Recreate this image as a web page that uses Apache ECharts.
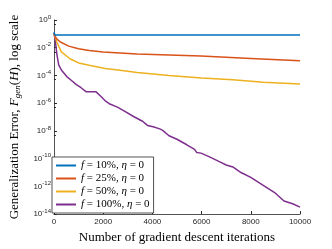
<!DOCTYPE html>
<html><head><meta charset="utf-8">
<script src="https://cdn.jsdelivr.net/npm/echarts@6/dist/echarts.min.js"></script>
<style>html,body{margin:0;padding:0;background:#fff}#c{width:332px;height:249px}</style>
</head><body><div id="c"></div>
<script>
var seriesNames = ['{i|f} = 10%, {i|η} = 0', '{i|f} = 25%, {i|η} = 0', '{i|f} = 50%, {i|η} = 0', '{i|f} = 100%, {i|η} = 0'];
var colors = ['#0072BD', '#D95319', '#EDB120', '#7E2F8E'];

var blueX = [0, 40, 10000];
var blueY = [1.3e-1, 8.3e-2, 8.3e-2];

var orangeX = [0, 100, 260, 600, 1000, 1430, 2000, 3380, 5975, 8000, 10000];
var orangeY = [1.0e-1, 4.5e-2, 2.6e-2, 1.3e-2, 8.5e-3, 6.2e-3, 5.0e-3, 3.5e-3, 2.5e-3, 1.7e-3, 1.15e-3];

var yellowX = [0, 60, 130, 300, 650, 1000, 1430, 2080, 2600, 3380, 4670, 6000, 7270, 8500, 10000];
var yellowY = [1.0e-1, 5e-2, 2.3e-2, 5e-3, 1.6e-3, 8e-4, 5.5e-4, 3.2e-4, 2.5e-4, 1.66e-4, 1.0e-4, 6.5e-5, 4.9e-5, 3.3e-5, 2.4e-5];

var purpleX = [0, 60, 120, 195, 300, 520, 700, 910, 1100, 1300, 1700, 1900, 2100, 2275, 2600, 2900, 3250, 3600, 3800, 4030, 4300, 4420, 4675, 5000, 5400, 5715, 5800, 5975, 6300, 6700, 7000, 7270, 7600, 8000, 8300, 8570, 9000, 9350, 9700, 10000];
var purpleY = [1.2e-1, 2.5e-2, 3.2e-3, 5.5e-4, 2.5e-4, 8.3e-5, 4.5e-5, 2.2e-5, 1.3e-5, 6.8e-6, 6.8e-6, 3.2e-6, 1.4e-6, 8.7e-7, 5.0e-7, 2.5e-7, 1.05e-7, 5.0e-8, 2.5e-8, 2.0e-8, 1.4e-8, 1.1e-8, 4.5e-9, 2.5e-9, 1.0e-9, 4.7e-10, 2.8e-10, 2.5e-10, 1.4e-10, 6.3e-11, 3.5e-11, 2.5e-11, 1.0e-11, 4.5e-12, 2.0e-12, 1.0e-12, 3.2e-13, 8.9e-14, 5.6e-14, 3.2e-14];

var xTicks = [0, 2000, 4000, 6000, 8000, 10000];

function pairs(xs, ys){ return xs.map(function(x,i){ return [x, ys[i]]; }); }
var allX = [blueX, orangeX, yellowX, purpleX];
var allY = [blueY, orangeY, yellowY, purpleY];

var chart = echarts.init(document.getElementById('c'), null, {renderer:'canvas'});
var serif = '"Liberation Serif","DejaVu Serif",serif';
var sans = '"Liberation Sans", Arial, sans-serif';
var option = {
  animation: false,
  backgroundColor: '#fff',
  grid: {left: 43, right: 32, top: 20, bottom: 29},
  xAxis: {
    type: 'value', min: xTicks[0], max: xTicks[xTicks.length-1], interval: 2000,
    name: 'Number of gradient descent iterations', nameLocation: 'middle', nameGap: 16,
    nameTextStyle: {fontFamily: serif, fontSize: 13, color: '#000'},
    axisLine: {lineStyle: {color: '#262626', width: 0.8}},
    axisTick: {inside: true, length: 3, lineStyle: {color: '#262626'}},
    axisLabel: {fontSize: 8, color: '#262626', margin: 4, fontFamily: sans,
      formatter: function(v){ return String(v); }},
    splitLine: {show: false}
  },
  yAxis: {
    type: 'log', min: 1e-14, max: 1, logBase: 10, interval: 2,
    name: 'Generalization Error, {i|F}{sub|gen}({i|H}), log scale', nameLocation: 'middle', nameGap: 28,
    nameTextStyle: {fontFamily: serif, fontSize: 13, color: '#000',
      rich: {i: {fontFamily: serif, fontStyle: 'italic', fontSize: 13}, sub: {fontFamily: serif, fontStyle: 'italic', fontSize: 9, padding: [7,0,0,0]}}},
    axisLine: {show: true, lineStyle: {color: '#262626', width: 0.8}},
    axisTick: {inside: true, length: 3, lineStyle: {color: '#262626'}},
    minorTick: {show: true, splitNumber: 2, length: 2, lineStyle: {color: '#262626'}},
    axisLabel: {
      color: '#262626', fontSize: 8, margin: 3, fontFamily: sans,
      formatter: function(v){ var e = Math.round(Math.log10(v)); return '10{s|' + e + '}'; },
      rich: {s: {fontSize: 6, color: '#262626', padding: [0,0,6,0], fontFamily: sans}}
    },
    splitLine: {show: false}
  },
  legend: {
    orient: 'vertical', left: 52, top: 157,
    backgroundColor: '#fff', borderColor: '#262626', borderWidth: 0.8, borderRadius: 0,
    padding: [3, 4, 3, 4], itemGap: 2, itemWidth: 20, itemHeight: 2, icon: 'rect',
    textStyle: {fontFamily: serif, fontSize: 11, color: '#000',
      rich: {i: {fontFamily: serif, fontStyle: 'italic', fontSize: 11}}},
    data: seriesNames
  },
  series: seriesNames.map(function(n, k){
    return {
      name: n, type: 'line', data: pairs(allX[k], allY[k]), showSymbol: false, symbol: 'none',
      lineStyle: {color: colors[k], width: 1.5}, itemStyle: {color: colors[k]}, z: 2 + (3-k)
    };
  })
};
chart.setOption(option);
</script></body></html>
